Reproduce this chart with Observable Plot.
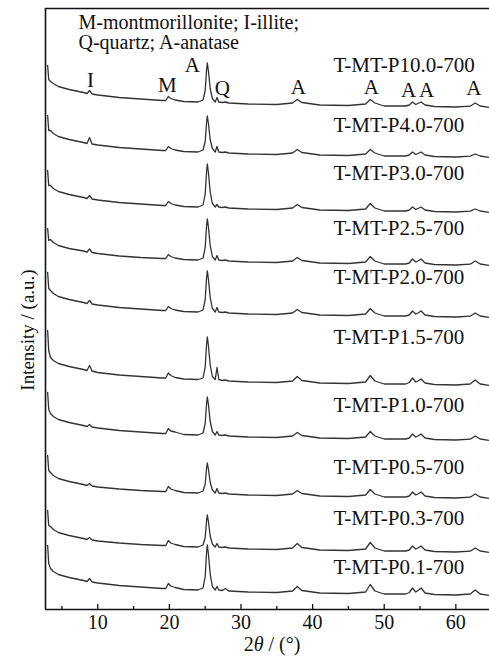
<!DOCTYPE html>
<html>
<head>
<meta charset="utf-8">
<script src="https://cdn.jsdelivr.net/npm/d3@7"></script>
<script src="https://cdn.jsdelivr.net/npm/@observablehq/plot@0.6"></script>
<style>
  body { margin: 0; background: #fff; }
  #chart svg { display: block; }
</style>
</head>
<body>
<div id="chart"></div>
<script>
// 2θ sample positions (degrees)
const twoTheta = [3.0, 3.15, 3.4, 3.8, 4.5, 6, 8, 8.5, 8.85, 9.2, 10, 13, 16, 19, 19.5, 19.85, 20.2, 20.8, 22, 24.0,
  24.7, 25.0, 25.2, 25.3, 25.45, 25.7, 26.0, 26.4, 26.65, 26.9, 27.4, 27.8, 28.3, 31, 35, 37.2, 37.85, 38.5, 41, 45,
  47.4, 48.05, 48.7, 50, 53.0, 53.5, 53.95, 54.4, 54.7, 55.15, 55.7, 57, 60, 62.0, 62.7, 63.4, 64.7];

const samples = ["T-MT-P10.0-700", "T-MT-P4.0-700", "T-MT-P3.0-700", "T-MT-P2.5-700", "T-MT-P2.0-700",
  "T-MT-P1.5-700", "T-MT-P1.0-700", "T-MT-P0.5-700", "T-MT-P0.3-700", "T-MT-P0.1-700"];

// vertical stacking offset of each pattern (a.u.)
const offsets = [502, 452, 397, 344, 292, 224, 169, 111, 57, 14];
// level of each sample name (a.u.)
const labelLevels = [544, 484, 436, 381, 332, 272, 204, 142, 91, 42];

// intensities above offset (a.u.)
const iP10_0 = [42, 28, 26, 24, 21, 18, 15, 14, 17, 13.5, 12.5, 10, 8.5, 7, 7, 11, 9, 7.5, 6, 5.5, 7.5, 17, 38.5, 44.5, 36.5, 19, 9, 5.5, 10, 5.5, 5, 5.5, 4.5, 3.5, 3, 4.5, 8, 5, 2.5, 2, 3.5, 8, 4.5, 1.5, 1.5, 2.5, 5.5, 3, 4, 5.5, 2.5, 1, 0.5, 1.3, 4.5, 1.5, 0];
const iP4_0 = [42, 27, 27, 24, 21, 18, 15, 14, 20, 13.5, 12.5, 10, 8.5, 7, 7, 11, 9, 7.5, 6, 5.5, 7.5, 16, 36, 41.5, 34, 18, 9, 5.5, 11, 5.5, 5, 5.5, 4.5, 3.5, 3, 4.5, 8, 5, 2.5, 2, 3.5, 8, 4.5, 1.5, 1.5, 2.5, 5.5, 3, 4, 5.5, 2.5, 1, 0.5, 1.3, 3.5, 1.5, 0];
const iP3_0 = [42, 27, 27, 24, 21, 18, 15, 14, 17, 13.5, 12.5, 10, 8.5, 7, 7, 11, 9, 7.5, 6, 5.5, 7.5, 18.5, 42, 48.5, 40, 20.5, 9, 5.5, 8, 5.5, 5, 5.5, 4.5, 3.5, 3, 4.5, 8, 5, 2.5, 2, 3.5, 9, 4.5, 1.5, 1.5, 2.5, 5.5, 3, 4, 5.5, 2.5, 1, 0.5, 1.3, 3.5, 1.5, 0];
const iP2_5 = [37, 25, 26, 23, 20, 17, 14.5, 13.5, 16.5, 13, 12, 9.5, 8, 7, 7, 11, 9, 7.5, 6, 5.5, 7.5, 18, 40.5, 46.5, 38.5, 20, 9, 5.5, 10, 5.5, 5, 5.5, 4.5, 3.5, 3, 4.5, 8, 5, 2.5, 2, 3.5, 9, 4.5, 1.5, 1.5, 2.5, 6.5, 3.5, 4.5, 6.5, 2.5, 1, 0.5, 1.3, 4.5, 1.5, 0];
const iP2_0 = [45, 29, 27, 24, 21, 18, 15, 14, 17, 13.5, 12.5, 10, 8.5, 7, 7, 11, 9, 7.5, 6, 5.5, 7.5, 18, 40.5, 46.5, 38.5, 20, 9, 5.5, 10, 5.5, 5, 5.5, 4.5, 3.5, 3, 4.5, 8, 5, 2.5, 2, 3.5, 9, 4.5, 1.5, 1.5, 2.5, 6.5, 3.5, 4.5, 6.5, 2.5, 1, 0.5, 1.3, 4.5, 1.5, 0];
const iP1_5 = [55, 35, 28, 25, 22, 19, 16, 15, 20, 14.5, 13, 10.5, 9, 7.5, 7.5, 12.5, 10, 8, 6.5, 6, 7.5, 18.5, 42, 48.5, 40, 20.5, 9, 6, 18, 6, 5, 5.5, 4.5, 3.5, 3, 4.5, 9, 5, 2.5, 2, 3.5, 10, 4.5, 1.5, 1.5, 3, 7.5, 3.5, 4.5, 6.5, 2.5, 1, 0.5, 1.5, 5.5, 1.5, 0];
const iP1_0 = [48, 31, 27, 24, 21, 18, 15, 14, 16, 13.5, 12.5, 10, 8.5, 7, 7, 12, 9.5, 8.5, 6, 5.5, 7.5, 17, 38, 43.5, 36, 19, 9, 5.5, 9, 5.5, 5, 5.5, 4.5, 3.5, 3, 4.5, 8, 5, 2.5, 2, 3.5, 9, 4.5, 1.5, 1.5, 2.5, 6.5, 3.5, 4.5, 6.5, 2.5, 1, 0.5, 1.3, 4.5, 1.5, 0];
const iP0_5 = [43, 28, 26, 23, 20, 17, 14, 13, 15, 12.5, 11.5, 9.5, 8, 7, 7, 12, 9.5, 8, 6, 5.5, 7.5, 14.5, 31, 35.5, 29.5, 16, 8.5, 5.5, 10, 5.5, 5, 5.5, 4.5, 3.5, 3, 4.5, 8, 5, 2.5, 2, 3.5, 9, 4.5, 1.5, 1.5, 2.5, 6.5, 3.5, 4.5, 6.5, 2.5, 1, 0.5, 1.3, 4.5, 1.5, 0];
const iP0_3 = [42, 27, 26, 23, 20, 17, 14, 13, 15, 12.5, 11.5, 9.5, 8, 7, 7, 12, 9.5, 8, 6, 5.5, 7.5, 15, 32.5, 37.5, 31, 16.5, 8.5, 5.5, 9, 5.5, 5, 5.5, 4.5, 3.5, 3, 4.5, 9, 5, 2.5, 2, 3.5, 10, 4.5, 1.5, 1.5, 2.5, 6.5, 3.5, 4.5, 6.5, 2.5, 1, 0.5, 1.3, 4.5, 1.5, 0];
const iP0_1 = [50, 32, 27, 24, 21, 18, 15, 14, 17, 13.5, 12.5, 10, 8.5, 7, 7, 12, 9.5, 8, 6, 5.5, 7.5, 19, 44, 50.5, 41.5, 21.5, 9, 5.5, 9, 5.5, 5, 7, 4.5, 3.5, 3, 4.5, 9, 5, 2.5, 2, 3.5, 11, 4.5, 1.5, 1.5, 3, 7.5, 3.5, 5, 7.5, 2.5, 1, 0.5, 1.5, 5.5, 1.5, 0];

const traces = [iP10_0, iP4_0, iP3_0, iP2_5, iP2_0, iP1_5, iP1_0, iP0_5, iP0_3, iP0_1];

// phase markers
const peakLetters = ["I", "M", "A", "Q", "A", "A", "A", "A", "A"];
const peakLetterX = [9.0, 19.7, 23.2, 27.4, 38.0, 48.2, 53.4, 55.9, 62.5];
const peakLetterY = [529, 524, 544, 521, 522, 522, 519, 519, 521];

const legendLines = ["M-montmorillonite; I-illite;", "Q-quartz; A-anatase"];
const majorTicks = [10, 20, 30, 40, 50, 60];
const minorTicks = [5, 15, 25, 35, 45, 55];
const xTitle = ["2", "θ", " / (°)"];
const yTitle = "Intensity / (a.u.)";

const serif = "'Liberation Serif', 'Times New Roman', Times, serif";

const rows = [];
samples.forEach((s, i) => traces[i].forEach((v, j) => rows.push({sample: s, x: twoTheta[j], y: offsets[i] + v})));
const labels = samples.map((s, i) => ({s, y: labelLevels[i]}));
const letters = peakLetters.map((t, i) => ({t, x: peakLetterX[i], y: peakLetterY[i]}));

const xMin = 2.7, xMax = 64.7, yMax = 601;

const chart = Plot.plot({
  width: 489,
  height: 657,
  marginLeft: 45,
  marginRight: 0,
  marginTop: 8,
  marginBottom: 48,
  style: {fontFamily: serif, background: "#fff"},
  x: {domain: [xMin, xMax]},
  y: {domain: [0, yMax], axis: null},
  marks: [
    Plot.line(rows, {x: "x", y: "y", z: "sample", stroke: "#333", strokeWidth: 1.3}),
    Plot.ruleX(majorTicks, {y1: 0, y2: 5, stroke: "#111", strokeWidth: 1.3}),
    Plot.ruleX(minorTicks, {y1: 0, y2: 3, stroke: "#111", strokeWidth: 1.3}),
    Plot.ruleY([0, yMax], {stroke: "#111", strokeWidth: 1.6}),
    Plot.ruleX([xMin], {stroke: "#111", strokeWidth: 1.6}),
    Plot.axisX({ticks: majorTicks, tickSize: 0, tickPadding: 5, fontSize: 20, label: null, fill: "#111"}),
    Plot.text(labels, {x: () => 42.9, y: "y", text: "s", textAnchor: "start", fontSize: 21, fill: "#111"}),
    Plot.text(letters, {x: "x", y: "y", text: "t", fontSize: 21, fill: "#111"}),
    Plot.text([legendLines.join("\n")], {frameAnchor: "top-left", dx: 33, dy: 6, lineAnchor: "top", textAnchor: "start", lineHeight: 1.0, fontSize: 20, fill: "#111"})
  ]
});

const svg = d3.select(chart);
const xt = svg.append("text")
  .attr("x", 272).attr("y", 651)
  .attr("text-anchor", "middle")
  .attr("font-family", serif).attr("font-size", 20).attr("fill", "#111");
xt.append("tspan").text(xTitle[0]);
xt.append("tspan").attr("font-style", "italic").text(xTitle[1]);
xt.append("tspan").text(xTitle[2]);

svg.append("text")
  .attr("transform", "translate(34,330) rotate(-90)")
  .attr("text-anchor", "middle")
  .attr("font-family", serif).attr("font-size", 19).attr("fill", "#111")
  .text(yTitle);

document.getElementById("chart").appendChild(chart);
</script>
</body>
</html>
